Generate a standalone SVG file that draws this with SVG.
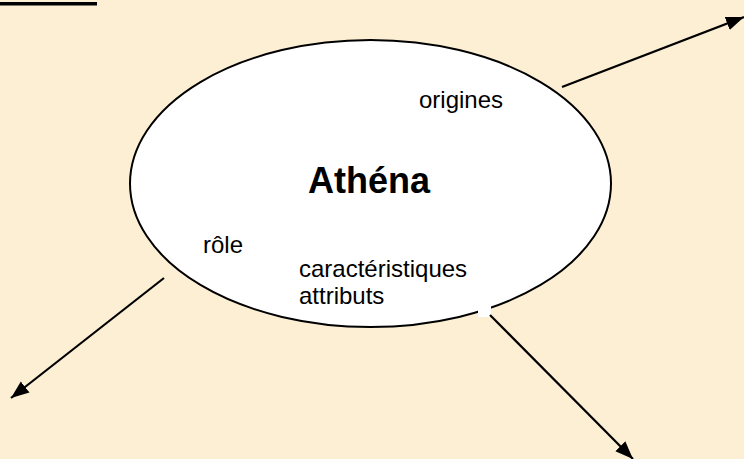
<svg xmlns="http://www.w3.org/2000/svg" width="744" height="459" viewBox="0 0 744 459">
<style>
.lbl{font-family:"Liberation Sans",Arial,sans-serif;font-size:24px;fill:#000}
.title{font-family:"Liberation Sans",Arial,sans-serif;font-size:36px;font-weight:bold;fill:#000}
.conn{stroke:#000;stroke-width:2.2;fill:none}
</style>
<defs>
<marker id="ah" markerUnits="userSpaceOnUse" markerWidth="20" markerHeight="16" refX="18" refY="7" orient="auto" viewBox="0 0 20 14">
<path d="M0,0 L18,7 L0,14 z" fill="#000"/>
</marker>
</defs>
<rect width="744" height="459" fill="#FCEFD3"/>
<rect x="0" y="2" width="97" height="3.5" fill="#000"/>
<g id="node-athena">
<ellipse cx="370.5" cy="183.5" rx="240.5" ry="143.5" fill="#fff" stroke="#000" stroke-width="2"/>
<rect x="478" y="303" width="13" height="14" fill="#fff"/>
<text class="title" x="308" y="193">Athéna</text>
<text class="lbl" x="419" y="108">origines</text>
<text class="lbl" x="203" y="253">rôle</text>
<text class="lbl" x="299" y="277">caractéristiques</text>
<text class="lbl" x="299" y="304">attributs</text>
</g>
<g id="connectors">
<line class="conn" x1="562" y1="87" x2="744" y2="17" marker-end="url(#ah)"/>
<line class="conn" x1="164" y1="278" x2="11" y2="398" marker-end="url(#ah)"/>
<line class="conn" x1="490" y1="315" x2="633" y2="459" marker-end="url(#ah)"/>
</g>
</svg>
